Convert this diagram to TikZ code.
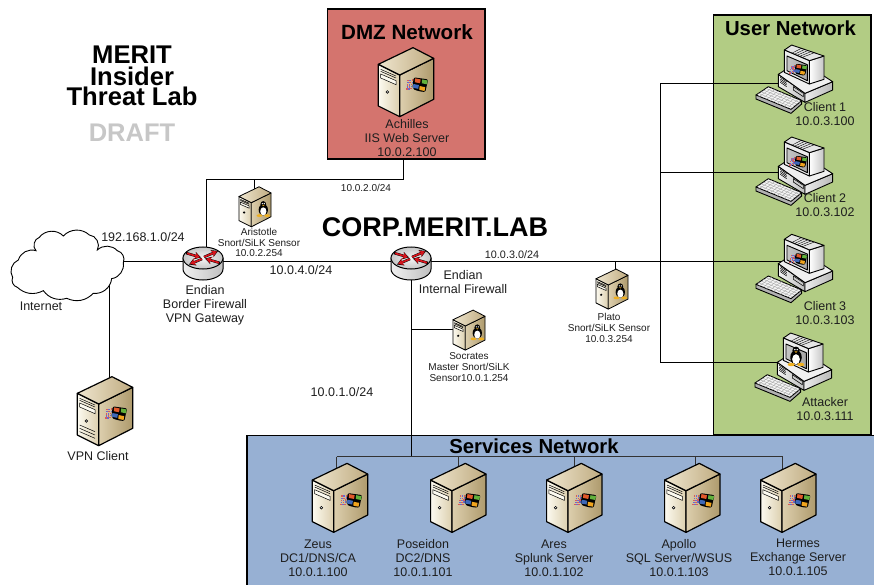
\documentclass[tikz,border=0pt]{standalone}
\usepackage{fontspec}
\setmainfont{Liberation Sans}
\usetikzlibrary{arrows.meta,calc}
\definecolor{dmzfill}{HTML}{D4746E}
\definecolor{userfill}{HTML}{B2CC84}
\definecolor{svcfill}{HTML}{97B0D3}
\definecolor{txt}{HTML}{1E1E1E}
\definecolor{dotA}{HTML}{D85C5C}
\definecolor{dotB}{HTML}{6A6AD0}
\definecolor{paneR}{HTML}{E2592A}
\definecolor{paneG}{HTML}{62B13C}
\definecolor{paneB}{HTML}{3E68B8}
\definecolor{paneO}{HTML}{F0A41E}
\definecolor{tuxY}{HTML}{F0B020}
\definecolor{srvA}{HTML}{FCFAF0}
\definecolor{srvB}{HTML}{DCCFAE}
\definecolor{srvC}{HTML}{DDCFAE}
\definecolor{srvD}{HTML}{AE9A6C}
\definecolor{srvE}{HTML}{EFE6CF}
\definecolor{srvF}{HTML}{BFAB80}
\definecolor{redA}{HTML}{D8141C}
\newcommand\fs[2]{\fontsize{#1}{#2}\selectfont}
% Windows logo, origin at centre of the four panes
\newcommand\winlogo{%
  \foreach \dx/\dy/\c in {-37/-13/dotA,-31/-13/dotB,-25/-14/dotA,-37/-7/dotB,-31/-7/dotA,-25/-8/dotB,-39/-1/dotA,-33/-1/dotB,-27/-2/dotA,-39/5/dotB,-33/5/dotA,-27/4/dotB,-41/11/dotA,-35/11/dotB,-29/10/dotA}{
    \fill[fill=\c] (\dx,\dy) rectangle ++(4.5,4.5);}
  \fill[black,rounded corners=2] (-19,-20) -- (2,-17) -- (23,-14) -- (17,8) -- (15,22) -- (-4,20) -- (-23,13) -- cycle;
  \foreach \cx/\cy/\c in {-7/-10/paneR,13/-7/paneG,-12/6/paneB,6/12/paneO}{
    \fill[fill=\c] (\cx-8,\cy-7) -- (\cx+8,\cy-4) -- (\cx+6,\cy+7) -- (\cx-9,\cy+4) -- cycle;}
}
% Penguin, origin at centre
\newcommand\tux{%
  \fill[black] (0,4) ellipse [x radius=24,y radius=30];
  \fill[black] (0,-24) ellipse [x radius=15,y radius=17];
  \fill[white] (0,12) ellipse [x radius=16,y radius=21];
  \fill[white] (-5,-28) circle (3.5);
  \fill[white] (5,-28) circle (3.5);
  \fill[tuxY] (-7,-21) -- (7,-21) -- (0,-15) -- cycle;
  \fill[tuxY] (-20,34) ellipse [x radius=15,y radius=7];
  \fill[tuxY] (20,34) ellipse [x radius=15,y radius=7];
}
\newcommand\srvbody{%
  \path[draw,line join=round,left color=srvA,right color=srvB] (-83,-53) -- (-19,-21) -- (-19,104) -- (-83,72) -- cycle;
  \path[draw,line join=round,left color=srvC,right color=srvD] (-19,-21) -- (83,-71) -- (83,52) -- (-19,104) -- cycle;
  \path[draw,line join=round,left color=srvE,right color=srvF] (-83,-53) -- (21,-103) -- (83,-71) -- (-19,-21) -- cycle;
  \draw[line width=.5pt] (-76,-38) -- (-30,-18) (-76,-32) -- (-30,-12);
  \draw[line width=.5pt,fill=srvA] (-76,-24) -- (-30,-4) -- (-30,8) -- (-76,-12) -- cycle;
  \draw[line width=.6pt,fill=white] (-56,30) circle (4);
}
\newcommand\clibody{%
  % keyboard
  \path[draw,line join=round,fill=gray!60] (18,165) -- (18,177) -- (123,220) -- (155,192) -- (155,182) -- cycle;
  \path[draw,line join=round,fill=gray!8] (18,165) -- (55,140) -- (155,182) -- (123,208) -- cycle;
  \foreach \t in {.2,.4,.6,.8}{
    \draw[gray!70,line width=.4pt] ($(18,165)!\t!(55,140)$) -- ($(123,208)!\t!(155,182)$);}
  \foreach \t in {.1,.2,.3,.4,.5,.6,.7,.8,.9}{
    \draw[gray!70,line width=.4pt] ($(18,165)!\t!(123,208)$) -- ($(55,140)!\t!(155,182)$);}
  % base
  \path[draw,line join=round,left color=gray!10,right color=gray!50] (85,103) -- (165,160) -- (165,187) -- (85,140) -- cycle;
  \path[draw,line join=round,left color=gray!15,right color=gray!55] (165,160) -- (248,125) -- (248,150) -- (165,187) -- cycle;
  \path[draw,line join=round,fill=gray!12] (85,103) -- (105,90) -- (222,108) -- (248,125) -- (165,160) -- cycle;
  \foreach \d in {0,5,10,15}{\draw[line width=.5pt] (91,112+\d) -- (110,125+\d);}
  \draw[line width=.5pt,fill=gray!40] (130,140) -- (160,160) -- (160,170) -- (130,150) -- cycle;
  % monitor
  \path[draw,line join=round,left color=white,right color=gray!45] (178,62) -- (222,48) -- (222,118) -- (178,132) -- cycle;
  \path[draw,line join=round,fill=gray!20] (103,30) -- (125,15) -- (222,48) -- (178,62) -- cycle;
  \foreach \t in {.3,.4,.5,.6,.7}{\draw[line width=.4pt] ($(125,15)!\t!(222,48)$) -- ($(103,30)!\t!(178,62)$);}
  \path[draw,line join=round,fill=gray!15] (103,30) -- (178,62) -- (178,132) -- (103,97) -- cycle;
  \path[draw,line join=round,left color=gray!45,right color=gray!70] (111,48) -- (172,74) -- (172,122) -- (111,92) -- cycle;
}
\tikzset{
  x=1pt,y=-1pt,
  line/.style={draw=black,line width=1pt},
  netbox/.style={draw=black,line width=1.6pt},
  lbl/.style={align=center,inner sep=0pt,text=txt,font=\fs{12.5}{14}},
  smalllbl/.style={align=center,inner sep=0pt,text=txt,font=\fs{10}{10.6}},
  title/.style={inner sep=0pt,text=black,font=\fs{20.3}{22}\bfseries},
  bigttl/.style={title,font=\fs{25.6}{28}\bfseries},
  bigdev/.style={line width=1.2pt},
  smalldev/.style={scale=.58,line width=.8pt},
  redarrow/.style={redA,line width=1.7pt,-{Stealth[length=5.5pt,width=6.5pt]}},
  backarrow/.style={black,line width=2.5pt,-{Stealth[length=6.5pt,width=7.5pt]}},
  pics/winserver/.style={code={\begin{scope}[scale=.3333]\srvbody\begin{scope}[shift={(43,7)},scale=1.05]\winlogo\end{scope}\end{scope}}},
  pics/linserver/.style={code={\begin{scope}[scale=.3333]\srvbody\begin{scope}[shift={(43,12)}]\tux\end{scope}\end{scope}}},
  pics/winclient/.style={code={\begin{scope}[shift={(-45,-36.67)},scale=.3333]\clibody\begin{scope}[shift={(153,88)},scale=.85]\winlogo\end{scope}\end{scope}}},
  pics/linclient/.style={code={\begin{scope}[shift={(-45,-36.67)},scale=.3333]\clibody\begin{scope}[shift={(141,85)},scale=.72]\tux\end{scope}\end{scope}}},
  pics/router/.style={code={
    \path[draw=black,line width=1pt,left color=gray!12,right color=gray!50] (-20,0) -- (-20,11) arc[start angle=180,end angle=0,x radius=20,y radius=11] -- (20,0) -- cycle;
    \path[draw=black,line width=1pt,inner color=gray!8,outer color=gray!45] (0,0) ellipse [x radius=20,y radius=11];
    \draw[backarrow] (-1,1) -- (-14,6.5);
    \draw[backarrow] (1,-1) -- (15,-7);
    \draw[backarrow] (-17,-5) -- (-2,-.5);
    \draw[backarrow] (17,5) -- (2,.5);
    \draw[redarrow] (-1,1) -- (-13,6);
    \draw[redarrow] (1,-1) -- (14,-6.5);
    \draw[redarrow] (-16,-4.7) -- (-3,-.8);
    \draw[redarrow] (16,4.7) -- (3,.8);
  }},
}
\begin{document}
\begin{tikzpicture}
\clip (0,0) rectangle (874,585);
\fill[white] (0,0) rectangle (874,585);
% network areas
\draw[netbox,fill=dmzfill] (327.5,9) rectangle (485,159);
\draw[netbox,fill=userfill] (713.5,15) rectangle (871,435);
\draw[netbox,fill=svcfill] (247,435.5) rectangle (890,600);
% devices' positions
\coordinate (achilles) at (406,82);
\coordinate (aristotle) at (255,206.7);
\coordinate (plato) at (612,289);
\coordinate (socrates) at (469,330);
\coordinate (vpn) at (105,411);
\coordinate (zeus) at (340,497.7);
\coordinate (poseidon) at (458.3,497.7);
\coordinate (ares) at (574.3,497.7);
\coordinate (apollo) at (692.3,497.7);
\coordinate (hermes) at (788.3,497.7);
\coordinate (client1) at (795,76.7);
\coordinate (client2) at (795,168.7);
\coordinate (client3) at (795,266);
\coordinate (attacker) at (794,364.7);
\coordinate (border) at (203,258);
\coordinate (internal) at (411,258);
% connector ends and junctions
\coordinate (inetE) at (115,261.5);
\coordinate (inetS) at (109.5,280);
\coordinate (borderW) at (190,261.5);
\coordinate (borderE) at (215,261.5);
\coordinate (borderN) at (206.5,250);
\coordinate (internalW) at (400,261.5);
\coordinate (internalE) at (425,261.5);
\coordinate (internalS) at (411.5,268);
\coordinate (vpnN) at (109.5,385);
\coordinate (dmzS) at (403.5,159);
\coordinate (dmzJ) at (403.5,179.5);
\coordinate (borderJ) at (206.5,179.5);
\coordinate (ariJ) at (254.5,179.5);
\coordinate (ariN) at (254.5,195);
\coordinate (platoJ) at (615.5,261.5);
\coordinate (platoN) at (615.5,280);
\coordinate (sockJ) at (411.5,329.5);
\coordinate (sockW) at (460,329.5);
\coordinate (usrT) at (660.5,83.5);
\coordinate (usrB) at (660.5,362.5);
\coordinate (usr2) at (660.5,172.5);
\coordinate (usr3) at (660.5,261.5);
\coordinate (c1W) at (785,83.5);
\coordinate (c2W) at (785,172.5);
\coordinate (c3W) at (785,261.5);
\coordinate (atkW) at (785,362.5);
\coordinate (svcJ) at (411.5,456.5);
\coordinate (busW) at (336.5,456.5);
\coordinate (busP) at (458.5,456.5);
\coordinate (busA) at (574.5,456.5);
\coordinate (busO) at (695.5,456.5);
\coordinate (busE) at (782.5,456.5);
\coordinate (zeusN) at (336.5,480);
\coordinate (poseidonN) at (458.5,480);
\coordinate (aresN) at (574.5,480);
\coordinate (apolloN) at (695.5,480);
\coordinate (hermesN) at (782.5,480);
% connectors
\draw[line] (inetE) -- (borderW);
\draw[line] (inetS) -- (vpnN);
\draw[line] (borderE) -- (internalW);
\draw[line] (internalE) -- (platoJ) -- (usr3) -- (c3W);
\draw[line] (borderN) -- (borderJ) -- (dmzJ) -- (dmzS);
\draw[line] (ariJ) -- (ariN);
\draw[line] (platoJ) -- (platoN);
\draw[line] (internalS) -- (svcJ);
\draw[line] (sockJ) -- (sockW);
\draw[line] (c1W) -- (usrT) -- (usrB) -- (atkW);
\draw[line] (usr2) -- (c2W);
\draw[line,draw=black!80] (busW) -- (busE);
\foreach \a/\b in {busW/zeusN,busP/poseidonN,busA/aresN,busO/apolloN,busE/hermesN}{\draw[line,draw=black!80] (\a) -- (\b);}
% cloud
\begin{scope}[shift={(0,180)},scale=.3333]
\path[draw=black,line width=.9pt,fill=white]
  (38,292) to[bend left=50] (55,240) to[bend left=45] (108,212) to[bend left=60] (118,172)
  to[bend left=50] (190,168) to[bend left=45] (268,165) to[bend left=60] (292,210)
  to[bend left=45] (352,212) to[bend left=50] (370,248) to[bend left=45] (335,296)
  to[bend left=45] (280,340) to[bend left=35] (200,355) to[bend left=35] (130,332)
  to[bend left=35] (52,322) to[bend left=50] (38,292) -- cycle;
\end{scope}
% devices
\pic[bigdev] at (achilles) {winserver};
\pic[bigdev] at (vpn) {winserver};
\begin{scope}[shift={(vpn)},scale=.3333]
\foreach \d in {42,52,62}{\draw[line width=.5pt] (-76,\d) -- (-30,\d+20);}
\end{scope}
\pic[bigdev] at (zeus) {winserver};
\pic[bigdev] at (poseidon) {winserver};
\pic[bigdev] at (ares) {winserver};
\pic[bigdev] at (apollo) {winserver};
\pic[bigdev] at (hermes) {winserver};
\pic[smalldev] at (aristotle) {linserver};
\pic[smalldev] at (plato) {linserver};
\pic[smalldev] at (socrates) {linserver};
\pic[line width=.9pt] at (client1) {winclient};
\pic[line width=.9pt] at (client2) {winclient};
\pic[line width=.9pt] at (client3) {winclient};
\pic[line width=.9pt] at (attacker) {linclient};
\pic at (border) {router};
\pic at (internal) {router};
% titles
\node[title,font=\fs{20.6}{22}\bfseries] (tdmz) at (407,32) {DMZ Network};
\node[title] (tusr) at (790.5,28) {User Network};
\node[title] (tsvc) at (534,446) {Services Network};
\node[title,font=\fs{27}{28}\bfseries] (tcorp) at (435,227) {CORP.MERIT.LAB};
\node[bigttl] (tlab1) at (132,54.5) {MERIT};
\node[bigttl] (tlab2) at (132,76) {Insider};
\node[bigttl] (tlab3) at (132,96) {Threat Lab};
\node[title,text=black!22,font=\fs{25.5}{28}\bfseries] (tdraft) at (132,133) {DRAFT};
% labels
\node[lbl] (lach) at (407,138) {Achilles\\IIS Web Server\\10.0.2.100};
\node[lbl] (linet) at (41,306) {Internet};
\node[lbl] (lbord) at (205,305) {Endian\\Border Firewall\\VPN Gateway};
\node[lbl] (lint) at (463,282.5) {Endian\\Internal Firewall};
\node[lbl] (lvpn) at (98,456) {VPN Client};
\node[lbl] (lnet1) at (143,237) {192.168.1.0/24};
\node[lbl] (lnet4) at (301,270) {10.0.4.0/24};
\node[lbl] (lnet10) at (342,392) {10.0.1.0/24};
\node[smalllbl] (lnet2) at (366,188) {10.0.2.0/24};
\node[smalllbl,font=\fs{10.8}{12}] (lnet3) at (512,255) {10.0.3.0/24};
\node[smalllbl] (lari) at (259,242.5) {Aristotle\\Snort/SiLK Sensor\\10.0.2.254};
\node[smalllbl] (lpla) at (609,328) {Plato\\Snort/SiLK Sensor\\10.0.3.254};
\node[smalllbl] (lsoc) at (469,367) {Socrates\\Master Snort/SiLK\\Sensor10.0.1.254};
\node[lbl] (lc1) at (825,114.5) {Client 1\\10.0.3.100};
\node[lbl] (lc2) at (825,205) {Client 2\\10.0.3.102};
\node[lbl] (lc3) at (825,313) {Client 3\\10.0.3.103};
\node[lbl] (lc4) at (825,409) {Attacker\\10.0.3.111};
\node[lbl] (lzeus) at (318,558.5) {Zeus\\DC1/DNS/CA\\10.0.1.100};
\node[lbl] (lpos) at (423,558.5) {Poseidon\\DC2/DNS\\10.0.1.101};
\node[lbl] (lare) at (554,558.5) {Ares\\Splunk Server\\10.0.1.102};
\node[lbl] (lapo) at (679,558.5) {Apollo\\SQL Server/WSUS\\10.0.1.103};
\node[lbl] (lher) at (798,557) {Hermes\\Exchange Server\\10.0.1.105};
\end{tikzpicture}
\end{document}
